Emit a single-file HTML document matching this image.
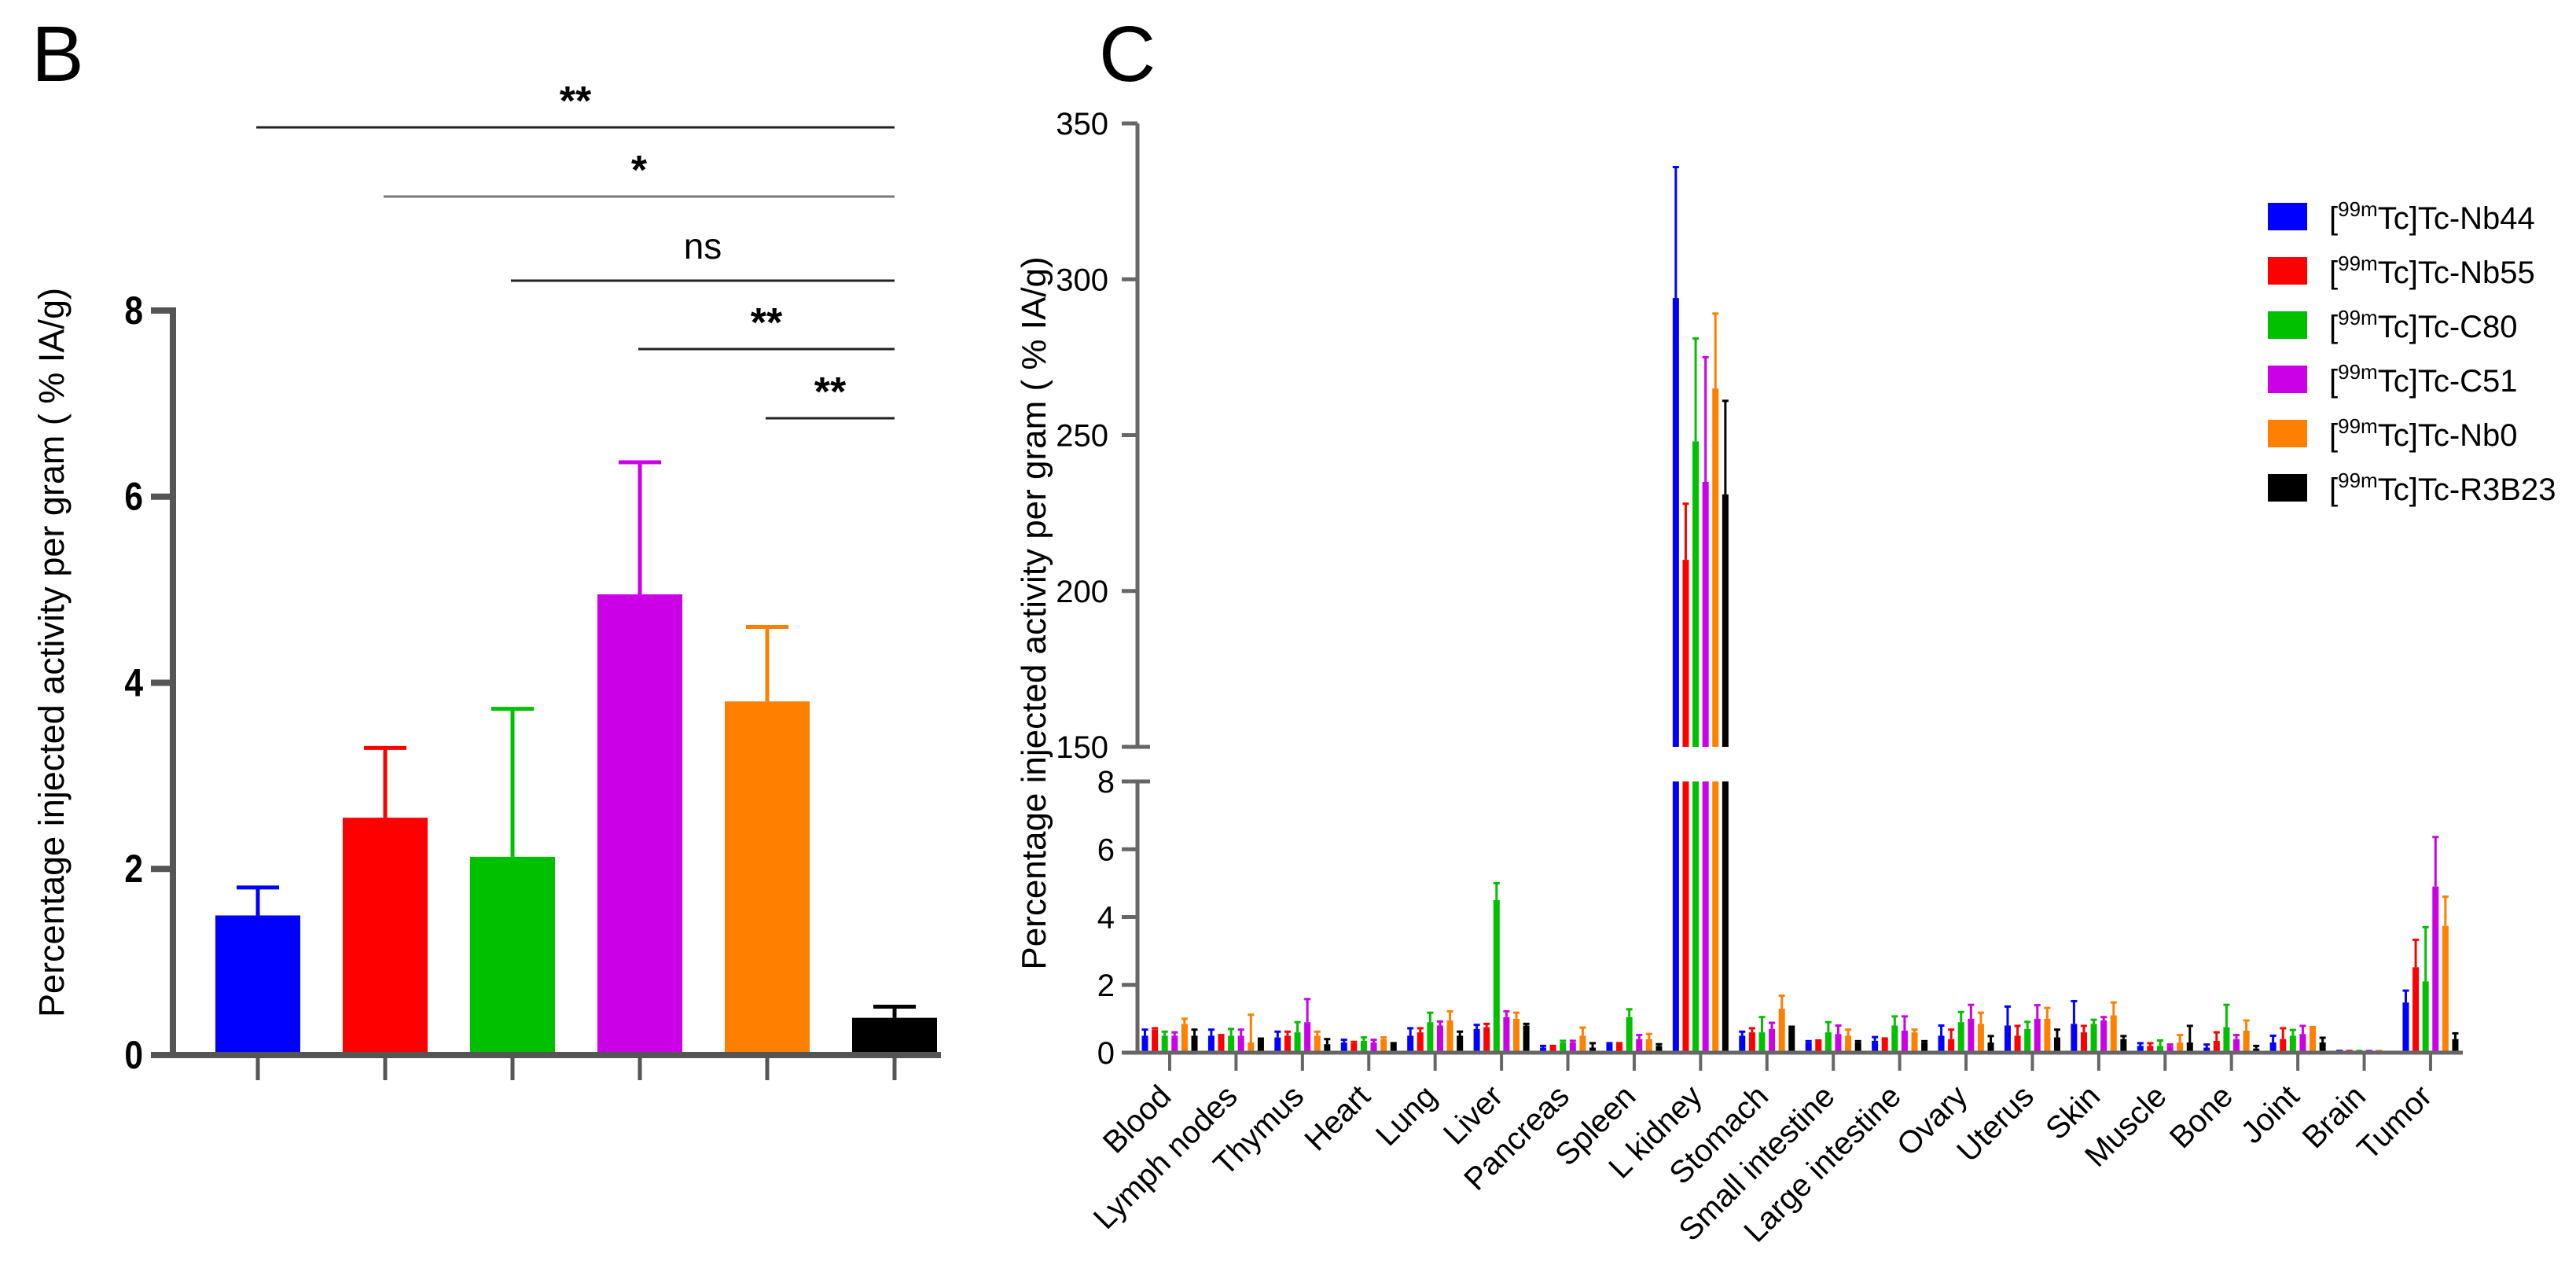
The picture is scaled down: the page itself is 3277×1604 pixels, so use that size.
<!DOCTYPE html>
<html><head><meta charset="utf-8"><style>
html,body{margin:0;padding:0;background:#fff;}
svg{display:block;font-family:"Liberation Sans",Arial,sans-serif;}
</style></head><body>
<svg id="fig" width="3277" height="1604" viewBox="0 0 3277 1604" xmlns="http://www.w3.org/2000/svg">
<rect width="3277" height="1604" fill="#fff"/>
<g id="panelB"></g>
<g id="panelC"></g>
</svg>
<script>
// ---- Panel B data ----
const bGroups = ["Nb44","Nb55","C80","C51","Nb0","R3B23"];
const bMeans = [1.5, 2.55, 2.13, 4.95, 3.8, 0.4];
const bErrTop = [1.8, 3.3, 3.72, 6.37, 4.6, 0.52];
const bTicks = [0, 2, 4, 6, 8];
const sigFrom = [0, 1, 2, 3, 4];
const sigTo = [5, 5, 5, 5, 5];
const sigLabels = ["**", "*", "ns", "**", "**"];
// ---- Panel C data ----
const cCategories = ["Blood","Lymph nodes","Thymus","Heart","Lung","Liver","Pancreas","Spleen","L kidney","Stomach","Small intestine","Large intestine","Ovary","Uterus","Skin","Muscle","Bone","Joint","Brain","Tumor"];
const seriesNames = ["Nb44","Nb55","C80","C51","Nb0","R3B23"];
const meanNb44 = [0.5,0.5,0.45,0.3,0.5,0.7,0.15,0.25,294,0.5,0.3,0.35,0.5,0.8,0.85,0.2,0.15,0.3,0.04,1.48];
const errNb44  = [0.68,0.68,0.62,0.38,0.72,0.82,0.2,0.28,336,0.62,0.34,0.46,0.8,1.36,1.52,0.28,0.24,0.5,0.05,1.83];
const meanNb55 = [0.68,0.5,0.5,0.28,0.6,0.75,0.18,0.25,210,0.6,0.35,0.4,0.4,0.5,0.6,0.2,0.35,0.4,0.04,2.52];
const errNb55  = [0.72,0.52,0.62,0.32,0.72,0.85,0.2,0.28,228,0.72,0.36,0.42,0.68,0.79,0.79,0.28,0.6,0.72,0.05,3.33];
const meanC80  = [0.5,0.5,0.6,0.35,0.9,4.5,0.3,1.05,248,0.6,0.6,0.8,0.9,0.7,0.85,0.2,0.75,0.5,0.04,2.1];
const errC80   = [0.62,0.7,0.9,0.45,1.18,5.0,0.35,1.28,281,1.05,0.9,1.07,1.2,0.91,0.97,0.36,1.41,0.67,0.05,3.7];
const meanC51  = [0.5,0.5,0.9,0.3,0.8,1.05,0.3,0.4,235,0.7,0.55,0.65,1.0,1.0,0.95,0.2,0.4,0.55,0.04,4.9];
const errC51   = [0.6,0.68,1.58,0.38,0.92,1.22,0.35,0.52,275,0.88,0.8,1.07,1.41,1.4,1.05,0.24,0.52,0.79,0.05,6.36];
const meanNb0  = [0.85,0.3,0.5,0.4,0.95,1.0,0.5,0.4,265,1.3,0.5,0.6,0.85,1.0,1.1,0.3,0.65,0.79,0.04,3.74];
const errNb0   = [1.0,1.12,0.62,0.45,1.22,1.18,0.74,0.55,289,1.68,0.68,0.68,1.18,1.32,1.48,0.52,0.95,0.79,0.05,4.6];
const meanR3   = [0.5,0.45,0.25,0.25,0.5,0.8,0.15,0.2,231,0.8,0.3,0.3,0.3,0.45,0.4,0.3,0.12,0.3,0.0,0.4];
const errR3    = [0.68,0.45,0.4,0.28,0.62,0.85,0.28,0.25,261,0.8,0.34,0.34,0.49,0.68,0.49,0.79,0.2,0.44,0.0,0.57];
const cLowTicks = [0, 2, 4, 6, 8];
const cHighTicks = [150, 200, 250, 300, 350];

const NS = "http://www.w3.org/2000/svg";
const colors = ["#0000ff","#ff0000","#00c000","#cc00e6","#ff8000","#000000"];
function mk(parent, tag, attrs, text){
  const e = document.createElementNS(NS, tag);
  for (const k in attrs) e.setAttribute(k, attrs[k]);
  if (text !== undefined) e.textContent = text;
  parent.appendChild(e);
  return e;
}

// ===== Panel B =====
(function(){
  const g = document.getElementById('panelB');
  const y0 = 1342, y8 = 395;
  const yB = v => y0 - (v / 8) * (y0 - y8);
  const xB = i => 328 + i * 162;
  const barW = 108;
  let t = mk(g,'text',{x:40,y:103,'font-size':100,fill:'#000'},'B');
   
  // bars
  bMeans.forEach((v,i)=>{
    const cx = xB(i);
    let eb = mk(g,'line',{x1:cx,x2:cx,y1:yB(v),y2:yB(bErrTop[i]),stroke:colors[i],'stroke-width':5});
     
    let cap = mk(g,'line',{x1:cx-27,x2:cx+27,y1:yB(bErrTop[i]),y2:yB(bErrTop[i]),stroke:colors[i],'stroke-width':5});
     
    let r = mk(g,'rect',{x:cx-barW/2,y:yB(v),width:barW,height:y0-yB(v),fill:colors[i]});
     
    let tk = mk(g,'line',{x1:cx,x2:cx,y1:y0,y2:y0+32,stroke:'#555','stroke-width':5});
     
  });
  // axes
  let ya = mk(g,'line',{x1:220,x2:220,y1:y8-4,y2:y0+4,stroke:'#555','stroke-width':8});
   
  let xa = mk(g,'line',{x1:216,x2:1197,y1:y0,y2:y0,stroke:'#555','stroke-width':8});
   
  bTicks.forEach(v=>{
    let tl = mk(g,'line',{x1:192,x2:220,y1:yB(v),y2:yB(v),stroke:'#555','stroke-width':8});
     
    let tx = mk(g,'text',{x:182,y:yB(v)+17,'font-size':50,'font-weight':'bold','text-anchor':'end',fill:'#000',transform:`translate(182 0) scale(0.85 1) translate(-182 0)`},String(v));
     
  });
  let yt = mk(g,'text',{x:0,y:0,'font-size':45,'text-anchor':'middle',fill:'#000',transform:'translate(81 830) rotate(-90)'},'Percentage injected activity per gram ( % IA/g)');
   
  // significance
  const sigY = [162, 250, 357, 444, 532];
  sigLabels.forEach((lab,k)=>{
    const x1 = xB(sigFrom[k]) - 2, x2 = xB(sigTo[k]);
    let l = mk(g,'line',{x1:x1,x2:x2,y1:sigY[k],y2:sigY[k],stroke:k===1?'#777':'#222','stroke-width':3});
     
    const isNs = lab==='ns';
    let s = mk(g,'text',{x:(x1+x2)/2,y:sigY[k]-(isNs?28:16),'font-size':isNs?46:52,'font-weight':isNs?'normal':'bold','text-anchor':'middle',fill:'#000'},lab);
     
  });
})();

// ===== Panel C =====
(function(){
  const g = document.getElementById('panelC');
  const axX = 1447;
  const yLow0 = 1339, yLow8 = 994;
  const yHi150 = 950, yHi350 = 157;
  const yL = v => yLow0 - (Math.min(v,8)/8)*(yLow0-yLow8);
  const yH = v => yHi150 - ((v-150)/200)*(yHi150-yHi350);
  const xC = i => 1488 + i*84.42;
  const allMeans = [meanNb44,meanNb55,meanC80,meanC51,meanNb0,meanR3];
  const allErr = [errNb44,errNb55,errC80,errC51,errNb0,errR3];
  let t = mk(g,'text',{x:1398,y:103,'font-size':100,fill:'#000'},'C');
   

  cCategories.forEach((cat,i)=>{
    const cx = xC(i);
    for (let s=0;s<6;s++){
      const bx = cx + (s-2.5)*12.6;
      const m = allMeans[s][i], e = allErr[s][i];
      const col = colors[s];
      if (m > 8){
        let r1 = mk(g,'rect',{x:bx-4,y:yLow8,width:8,height:yLow0-yLow8,fill:col});
         
        let r2 = mk(g,'rect',{x:bx-4,y:yH(m),width:8,height:yHi150-yH(m),fill:col});
         
        let el = mk(g,'line',{x1:bx,x2:bx,y1:yH(m),y2:yH(e),stroke:col,'stroke-width':3});
         
        let ec = mk(g,'line',{x1:bx-4,x2:bx+4,y1:yH(e),y2:yH(e),stroke:col,'stroke-width':3});
         
      } else {
        if (m > 0){
          let r = mk(g,'rect',{x:bx-4,y:yL(m),width:8,height:yLow0-yL(m),fill:col});
           
        }
        if (e > m){
          let el = mk(g,'line',{x1:bx,x2:bx,y1:yL(m),y2:yL(e),stroke:col,'stroke-width':3});
           
          let ec = mk(g,'line',{x1:bx-4,x2:bx+4,y1:yL(e),y2:yL(e),stroke:col,'stroke-width':3});
           
        }
      }
    }
    let tk = mk(g,'line',{x1:cx,x2:cx,y1:yLow0,y2:yLow0+23,stroke:'#666','stroke-width':4});
     
    let lb = mk(g,'text',{x:0,y:0,'font-size':40,'text-anchor':'end',fill:'#000',transform:`translate(${cx+4} ${yLow0+58}) rotate(-45)`},cat);
     
  });
  // axes
  let xa = mk(g,'line',{x1:axX,x2:3133,y1:yLow0,y2:yLow0,stroke:'#666','stroke-width':5});
   
  let ya1 = mk(g,'line',{x1:axX,x2:axX,y1:yLow8,y2:yLow0,stroke:'#666','stroke-width':5});
   
  let ya2 = mk(g,'line',{x1:axX,x2:axX,y1:yHi350,y2:yHi150,stroke:'#666','stroke-width':5});
   
  cLowTicks.forEach(v=>{
    const yy = yL(v);
    const right = v===8 ? axX+16 : axX;
    let tl = mk(g,'line',{x1:axX-20,x2:right,y1:yy,y2:yy,stroke:'#666','stroke-width':5});
     
    let tx = mk(g,'text',{x:1418,y:yy+14,'font-size':40,'text-anchor':'end',fill:'#000'},String(v));
     
  });
  cHighTicks.forEach(v=>{
    const yy = yH(v);
    const right = v===150 ? axX+16 : axX;
    let tl = mk(g,'line',{x1:axX-20,x2:right,y1:yy,y2:yy,stroke:'#666','stroke-width':5});
     
    let tx = mk(g,'text',{x:1410,y:yy+14,'font-size':40,'text-anchor':'end',fill:'#000'},String(v));
     
  });
  let yt = mk(g,'text',{x:0,y:0,'font-size':44,'text-anchor':'middle',fill:'#000',transform:'translate(1330 780) rotate(-90)'},'Percentage injected activity per gram ( % IA/g)');
   
  // legend
  const legNames = ["Nb44","Nb55","C80","C51","Nb0","R3B23"];
  legNames.forEach((n,k)=>{
    const yy = 258 + k*69;
    let sq = mk(g,'rect',{x:2885,y:yy,width:50,height:35,fill:colors[k]});
     
    let tx = mk(g,'text',{x:2963,y:yy+33,'font-size':40,fill:'#000'});
     
    const a = mk(tx,'tspan',{},'[');
    const b = mk(tx,'tspan',{'font-size':26,dy:-16},'99m');
    const c = mk(tx,'tspan',{dy:16},'Tc]Tc-'+n);
  });
})();
</script>
</body></html>
